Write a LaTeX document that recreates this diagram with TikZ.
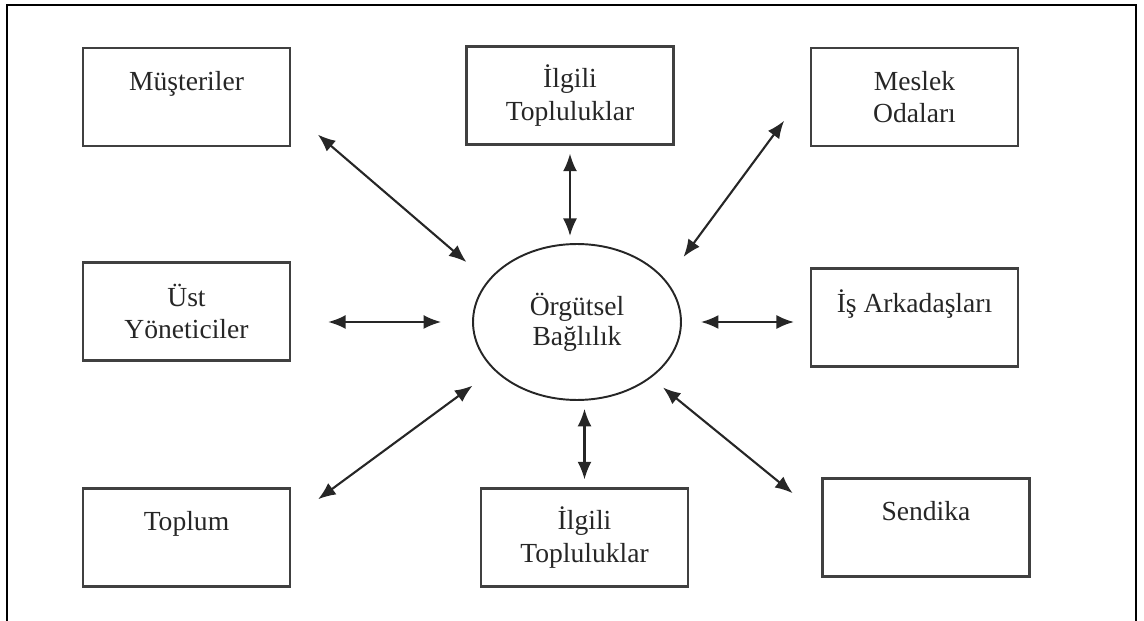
\documentclass[tikz,border=0pt]{standalone}
\usepackage{fontspec}
\setmainfont{Liberation Serif}
\usetikzlibrary{arrows.meta,shapes.geometric}

\begin{document}
\begin{tikzpicture}[x=0.02cm,y=-0.02cm,
  kutu/.style={draw=black!75,line width=1.4pt,minimum width=4.14cm,minimum height=1.96cm,
    inner sep=0pt,align=center,text=black!85,font=\fontsize{15.7}{18.5}\selectfont},
  merkez/.style={draw=black!85,line width=1.1pt,ellipse,minimum width=4.16cm,minimum height=3.12cm,
    inner sep=0pt,align=center,text=black!85,font=\fontsize{15.7}{17}\selectfont},
  ok/.style={{Latex[length=10pt,width=8pt]}-{Latex[length=10pt,width=8pt]},line width=1.2pt,draw=black!85}]

  \useasboundingbox (0,0) rectangle (1144,621);
  \draw[line width=1.2pt] (7,621) -- (7,5) -- (1136,5) -- (1136,621);

  \node[merkez] (org) at (577,322) {Örgütsel\\Bağlılık};

  \node[kutu] (mus) at (186.5,97) {Müşteriler\\~};
  \node[kutu] (ilgiliUst) at (570,95.5) {İlgili\\Topluluklar};
  \node[kutu] (meslek) at (914.5,97) {Meslek\\Odaları};
  \node[kutu] (ust) at (186.5,311.5) {Üst\\Yöneticiler};
  \node[kutu] (is) at (914.5,317.5) {İş Arkadaşları\\~};
  \node[kutu] (toplum) at (186.5,537.5) {Toplum\\~};
  \node[kutu] (ilgiliAlt) at (584.5,537.5) {İlgili\\Topluluklar};
  \node[kutu] (sendika) at (926,527.5) {Sendika\\~};

  \draw[ok,shorten <=20pt,shorten >=16pt] (mus.-8) -- (org.155);
  \draw[ok,shorten <=4.5pt,shorten >=4pt] (ilgiliUst.south) -- (ilgiliUst.south |- org.north);
  \draw[ok,shorten <=24.6pt,shorten >=16.6pt] (meslek.174) -- (org.25);
  \draw[ok,shorten <=21pt,shorten >=17.6pt] (ust.east |- org.west) -- (org.west);
  \draw[ok,shorten <=10.8pt,shorten >=9pt] (org.east) -- (org.east -| is.west);
  \draw[ok,shorten <=19pt,shorten >=15pt] (toplum.10) -- (org.210);
  \draw[ok,shorten <=4.5pt,shorten >=4.5pt] (org.south -| ilgiliAlt.north) -- (ilgiliAlt.north);
  \draw[ok,shorten <=21pt,shorten >=8.7pt] (sendika.174) -- (org.323);
\end{tikzpicture}
\end{document}
